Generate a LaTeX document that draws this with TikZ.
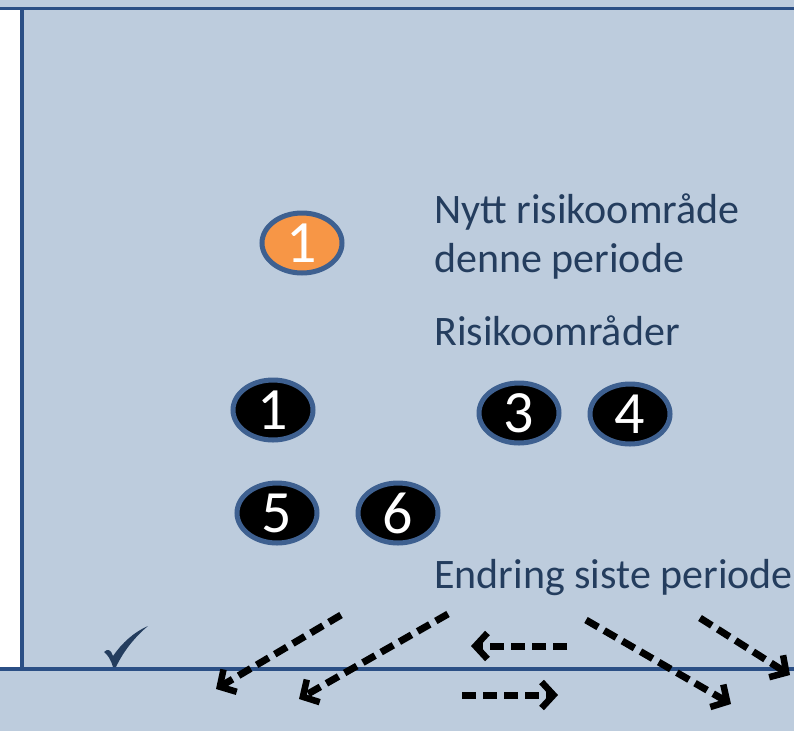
\documentclass[tikz,border=0pt]{standalone}
\usepackage{fontspec}
\setmainfont{Carlito}
\usetikzlibrary{arrows.meta,shapes.geometric}
\definecolor{bgblue}{HTML}{BDCCDD}
\definecolor{frameblue}{HTML}{2B4F85}
\definecolor{rimblue}{HTML}{3E6090}
\definecolor{txtblue}{HTML}{243D5E}
\definecolor{orng}{HTML}{F79646}
\tikzset{
  frameline/.style={draw=frameblue, line width=3.4pt},
  badge/.style={ellipse, draw=rimblue, line width=5pt, minimum width=80pt, minimum height=60pt, inner sep=0pt, text=white, font=\fontsize{60}{60}\selectfont},
  oldbadge/.style={badge, fill=black},
  newbadge/.style={badge, fill=orng},
  label/.style={anchor=base west, text=txtblue, font=\fontsize{42}{42}\selectfont, inner sep=0pt},
  chg/.style={draw=black, line width=7pt, dash pattern=on 14pt off 7pt, -{Straight Barb[length=12pt, width=26pt, line width=6.5pt]}}
}
\begin{document}
\begin{tikzpicture}[x=1pt, y=-1pt]
\useasboundingbox (0,0) rectangle (794,731);
\fill[bgblue] (0,0) rectangle (794,731);
\fill[white] (0,9) rectangle (22,668);
\draw[frameline] (0,8.5) -- (794,8.5);
\draw[frameline] (22,8.5) -- (22,669);
\draw[frameline] (0,669) -- (794,669);
% check mark
\fill[txtblue] (104,652) .. controls (108,648) and (111,650) .. (113,656)
  .. controls (122,643) and (134,632) .. (148,626)
  .. controls (136,636) and (124,650) .. (116,667)
  -- (113,667) .. controls (111,660) and (108,655) .. (104,652) -- cycle;
% badges
\node[newbadge] (n1) at (302,243) {1};
\node[oldbadge] (b1) at (273,410) {1};
\node[oldbadge] (b3) at (519,413) {3};
\node[oldbadge] (b4) at (630,414) {4};
\node[oldbadge] (b5) at (277,513) {5};
\node[oldbadge] (b6) at (398,513) {6};
% labels
\node[label] (t1) at (434,223) {Nytt risikoområde};
\node[label] (t2) at (434,272) {denne periode};
\node[label] (t3) at (434,345) {Risikoområder};
\node[label] (t4) at (434,588) {Endring siste periode};
% change arrows
\coordinate (a1s) at (341,615); \coordinate (a1e) at (216,689);
\coordinate (a2s) at (448,614); \coordinate (a2e) at (299,699);
\coordinate (a3s) at (567,646); \coordinate (a3e) at (471,646);
\coordinate (a4s) at (462,695); \coordinate (a4e) at (558,695);
\coordinate (a5s) at (586,620); \coordinate (a5e) at (731,704);
\coordinate (a6s) at (700,618); \coordinate (a6e) at (790,675);
\draw[chg] (a1s) -- (a1e);
\draw[chg] (a2s) -- (a2e);
\draw[chg] (a3s) -- (a3e);
\draw[chg] (a4s) -- (a4e);
\draw[chg] (a5s) -- (a5e);
\draw[chg] (a6s) -- (a6e);
\end{tikzpicture}
\end{document}
